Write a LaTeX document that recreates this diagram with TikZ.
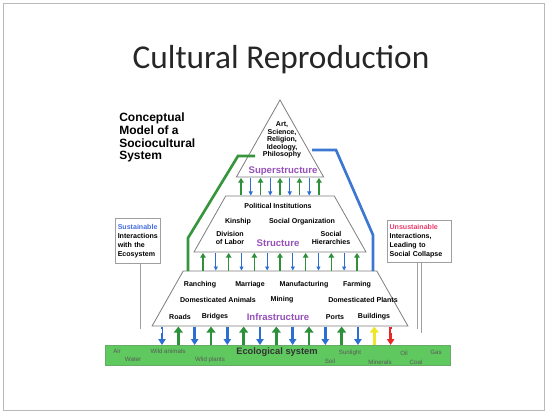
\documentclass[tikz,border=0pt]{standalone}
\usepackage{fontspec}
\setmainfont{Liberation Sans}
\newfontfamily\titlefont{Carlito}
\usetikzlibrary{arrows.meta}
\definecolor{purp}{RGB}{150,80,185}
\definecolor{arrgreen}{RGB}{45,145,60}
\definecolor{arrblue}{RGB}{45,110,210}
\definecolor{linegreen}{RGB}{55,150,60}
\definecolor{lineblue}{RGB}{60,120,210}
\definecolor{ecogreen}{RGB}{95,200,95}
\definecolor{outline}{RGB}{125,125,125}
\definecolor{sustblue}{RGB}{70,110,225}
\definecolor{unsred}{RGB}{235,60,110}
\definecolor{arryellow}{RGB}{240,230,40}
\definecolor{arrred}{RGB}{230,40,40}
\begin{document}
\begin{tikzpicture}[x=0.75pt,y=-0.75pt,
  small/.style={font=\fontsize{5.3}{5.6}\selectfont\bfseries, inner sep=0, align=center},
  level/.style={font=\fontsize{7.2}{8}\selectfont\bfseries, text=purp, inner sep=0},
  eco/.style={font=\fontsize{4.6}{5}\selectfont, text=black!65, inner sep=0},
  tier/.style={draw=outline, line width=0.6pt, fill=white},
  upg/.style={draw=arrgreen, line width=1.1pt, -{Triangle[length=3.5pt,width=4.2pt]}},
  dnb/.style={draw=arrblue, line width=0.6pt, -{Triangle[length=3pt,width=3pt]}},
  bigup/.style={draw=arrgreen, line width=2pt, -{Triangle[length=4.5pt,width=6.5pt]}},
  bigdn/.style={draw=arrblue, line width=1.8pt, -{Triangle[length=4.5pt,width=5.5pt]}},
  sidebox/.style={draw=gray!75, line width=0.9pt, fill=white, anchor=north west, align=left,
    font=\fontsize{5.3}{6.75}\selectfont\bfseries, inner sep=1.5pt},
  conn/.style={draw=gray!75, line width=0.5pt, double=white, double distance=2.6pt},
  path/.style={line width=2pt}
]
\useasboundingbox (0,0) rectangle (548,416);
\draw[gray!55, line width=0.5pt] (3,3) rectangle (544,410);

% title
\node[font=\titlefont\fontsize{25}{30}\selectfont, text=black!85] (title) at (281,60) {Cultural Reproduction};
\node[anchor=north west, align=left, inner sep=0, font=\fontsize{9}{9.5}\selectfont\bfseries] (concept) at (119,113)
  {Conceptual\\Model of a\\Sociocultural\\System};

% pyramid tiers
\draw[tier] (280,100) -- (323.6,177) -- (236.4,177) -- cycle;
\draw[tier] (225.7,196) -- (334.3,196) -- (366,252) -- (194,252) -- cycle;
\draw[tier] (183.2,271) -- (376.8,271) -- (407.9,326) -- (152.1,326) -- cycle;

% ecological system band
\node[draw=green!45!black!60, fill=ecogreen, anchor=north west, minimum width=258.75pt, minimum height=15pt, inner sep=0] (eco) at (105,345) {};

% green and blue feedback paths
\coordinate (g0) at (255,156); \coordinate (g1) at (238,156); \coordinate (g2) at (188,238); \coordinate (g3) at (188,271);
\draw[linegreen, path] (g0) -- (g1) -- (g2) -- (g3);
\coordinate (b0) at (312,150); \coordinate (b1) at (336,150); \coordinate (b2) at (373,235); \coordinate (b3) at (373,271);
\draw[lineblue, path] (b0) -- (b1) -- (b2) -- (b3);

% arrows between superstructure and structure
\foreach \i in {0,...,8}{
  \pgfmathsetmacro{\xx}{241+9.75*\i}
  \coordinate (sat\i) at (\xx,178);
  \coordinate (sab\i) at (\xx,195.5);
  \ifodd\i \draw[dnb] (sat\i) -- (sab\i); \else \draw[upg] (sab\i) -- (sat\i); \fi
}
% arrows between structure and infrastructure
\foreach \i in {0,...,12}{
  \pgfmathsetmacro{\xx}{203+12.83*\i}
  \coordinate (sbt\i) at (\xx,253);
  \coordinate (sbb\i) at (\xx,270.5);
  \ifodd\i \draw[dnb] (sbt\i) -- (sbb\i); \else \draw[upg] (sbb\i) -- (sbt\i); \fi
}
% arrows between infrastructure and ecosystem
\foreach \i in {0,...,14}{
  \pgfmathsetmacro{\xx}{162+16.33*\i}
  \coordinate (sct\i) at (\xx,326.5);
  \coordinate (scb\i) at (\xx,345);
}
\foreach \i in {0,2,4,6,8,10,12}{ \draw[bigdn] (sct\i) -- (scb\i); }
\foreach \i in {1,3,5,7,9,11}{ \draw[bigup] (scb\i) -- (sct\i); }
\draw[bigup, draw=arryellow] (scb13) -- (sct13);
\draw[bigdn, draw=arrred, line width=2.2pt] (sct14) -- (scb14);

% side boxes and their connectors
\node[sidebox, minimum width=33.75pt, minimum height=33.75pt, text width=30.5pt] (sust) at (115,218)
  {\textcolor{sustblue}{Sustainable}\\Interactions\\with the\\Ecosystem};
\node[sidebox, minimum width=48pt, minimum height=31.5pt, text width=45pt] (unsust) at (387,220)
  {\textcolor{unsred}{Unsustainable}\\Interactions,\\Leading to\\Social Collapse};
\coordinate (lc) at (sust.south |- 0,331);
\coordinate (rc) at (unsust.south |- 0,331);
\draw[conn] (sust.south) -- (lc) -- (lc -| sct0);
\draw[conn] (unsust.south) -- (rc) -- (rc -| sct14);

% superstructure text
\node[small] (ideas) at (282,140) {Art,\\Science,\\Religion,\\Ideology,\\Philosophy};
\node[level] (super) at (283,171) {Superstructure};
% structure text
\node[small] (polit) at (278,206) {Political Institutions};
\node[small] (kin) at (238,222) {Kinship};
\node[small] (socorg) at (302,222) {Social Organization};
\node[small] (divlab) at (230,238) {Division\\of Labor};
\node[level] (struct) at (278,243) {Structure};
\node[small] (sochier) at (331,238) {Social\\Hierarchies};
% infrastructure text
\node[small] (ranch) at (200,285) {Ranching};
\node[small] (marr) at (250,285) {Marriage};
\node[small] (manu) at (304,285) {Manufacturing};
\node[small] (farm) at (357,285) {Farming};
\node[small] (doma) at (218,300) {Domesticated Animals};
\node[small] (mine) at (282,300) {Mining};
\node[small] (domp) at (363,300) {Domesticated Plants};
\node[small] (roads) at (180,317) {Roads};
\node[small] (bridge) at (215,317) {Bridges};
\node[level] (infra) at (278,317) {Infrastructure};
\node[small] (ports) at (335,317) {Ports};
\node[small] (build) at (374,317) {Buildings};

% ecological system text
\node[font=\fontsize{7}{8}\selectfont\bfseries, text=black!80, inner sep=0] (ecolab) at (277,352) {Ecological system};
\node[eco] (air) at (117,351) {Air};
\node[eco] (water) at (133,359.5) {Water};
\node[eco] (wanim) at (168,351) {Wild animals};
\node[eco] (wplan) at (210,360) {Wild plants};
\node[eco] (soil) at (330,361) {Soil};
\node[eco] (sun) at (350,352.5) {Sunlight};
\node[eco] (minr) at (380,362) {Minerals};
\node[eco] (oil) at (404,353) {Oil};
\node[eco] (coal) at (416,362) {Coal};
\node[eco] (gas) at (436,352.5) {Gas};
\end{tikzpicture}
\end{document}
